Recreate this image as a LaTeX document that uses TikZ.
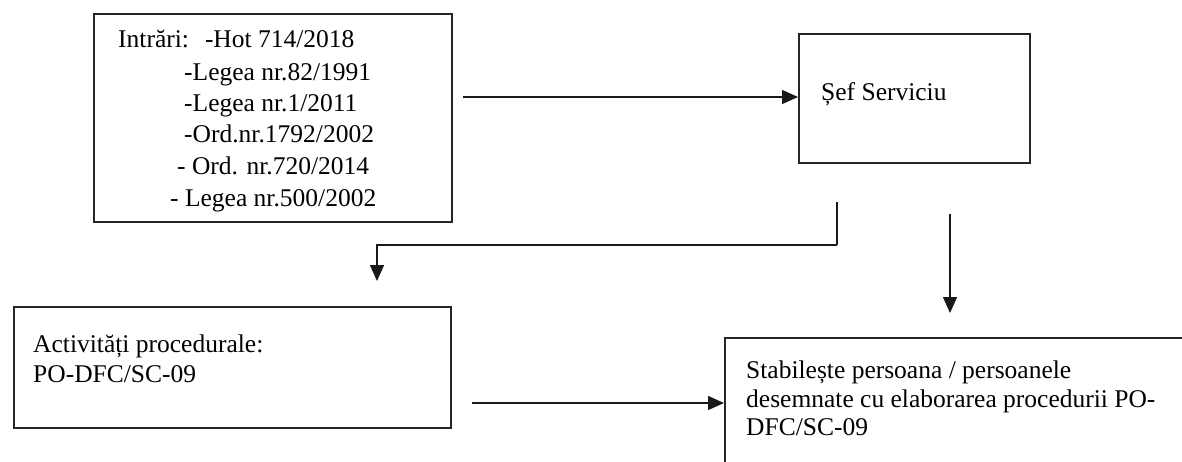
\documentclass[tikz,border=0pt]{standalone}
\usepackage{fontspec}
\setmainfont{Liberation Serif}
\usetikzlibrary{arrows.meta}
\begin{document}
\begin{tikzpicture}[x=1pt,y=-1pt,
  box/.style={draw=black!85, line width=1.8pt, rectangle, inner sep=0pt, anchor=north west},
  txt/.style={inner sep=0pt, anchor=base west, font=\fontsize{25.5}{30}\selectfont},
  arr/.style={draw=black!90, line width=1.4pt, -{Triangle[length=16pt,width=14pt]}},
  ln/.style={draw=black!90, line width=1.4pt}]
\useasboundingbox (0,0) rectangle (1182,462);
\clip (0,0) rectangle (1182,462);
\fill[white] (0,0) rectangle (1182,462);

% boxes
\node[box, minimum width=358pt, minimum height=208pt] (in) at (93,13) {};
\node[box, minimum width=231pt, minimum height=129pt] (sef) at (798,33) {};
\node[box, minimum width=437pt, minimum height=121pt] (act) at (13,306) {};
\node[box, minimum width=500pt, minimum height=160pt] (stab) at (724,337) {};

% texts
\node[txt] (t1) at (118,48) {Intrări:\hspace{16pt}-Hot 714/2018};
\node[txt] (t2) at (184,81) {-Legea nr.82/1991};
\node[txt] (t3) at (184,112) {-Legea nr.1/2011};
\node[txt] (t4) at (184,143) {-Ord.nr.1792/2002};
\node[txt] (t5) at (177,175) {- Ord. nr.720/2014};
\node[txt] (t6) at (170,207) {- Legea nr.500/2002};

\node[txt] (s1) at (821,101) {Șef Serviciu};

\node[txt] (a1) at (33,352) {Activități procedurale:};
\node[txt] (a2) at (33,382) {PO-DFC/SC-09};

\node[txt] (b1) at (746,378) {Stabilește persoana / persoanele};
\node[txt] (b2) at (746,407) {desemnate cu elaborarea procedurii PO-};
\node[txt] (b3) at (746,435) {DFC/SC-09};

% connectors
\coordinate (c1) at (463,97);
\draw[arr] (c1) -- (sef.west |- c1);

\coordinate (c2) at (837,202);
\coordinate (c3) at (837,245);
\coordinate (c4) at (377,245);
\coordinate (c5) at (377,281);
\draw[ln] (c2) -- (c3);
\draw[arr] (c3) -- (c4) -- (c5);

\coordinate (c6) at (950,214);
\coordinate (c7) at (950,313);
\draw[arr] (c6) -- (c7);

\coordinate (c8) at (472,403);
\draw[arr] (c8) -- (stab.west |- c8);
\end{tikzpicture}
\end{document}
